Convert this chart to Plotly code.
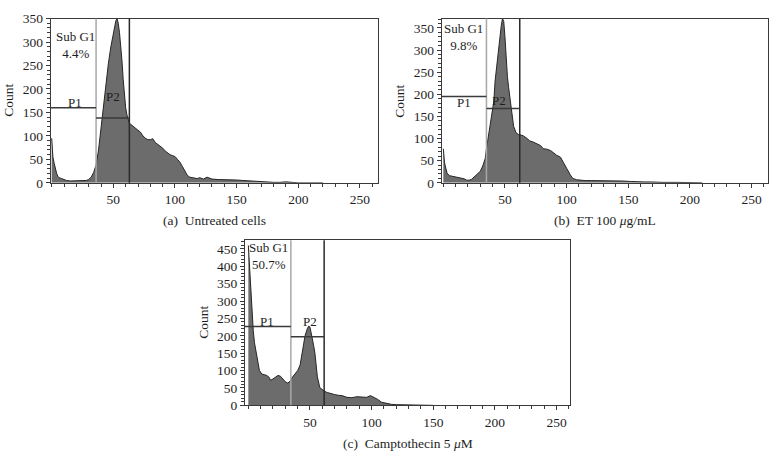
import plotly.graph_objects as go

# ---------------- data ----------------
# Panel (a) Untreated cells
a_x = [0, 1, 2, 3, 4, 5, 6, 8, 10, 12, 15, 20, 25, 28, 30, 32, 34, 36, 38, 40, 42, 44, 46, 48,
       50, 51, 52, 53, 54, 55, 56, 57, 58, 59, 60, 61, 62, 63, 64, 66, 68, 70, 72, 74, 76, 78,
       80, 82, 84, 86, 88, 90, 92, 94, 96, 98, 100, 102, 104, 106, 108, 110, 112, 115, 118,
       120, 123, 126, 130, 135, 140, 145, 150, 155, 160, 165, 170, 175, 180, 185, 190, 195,
       200, 210, 220]
a_y = [95, 55, 42, 30, 20, 14, 11, 9, 7, 5, 4, 4, 4, 5, 7, 12, 22, 38, 70, 120, 170, 215, 255,
       290, 320, 335, 345, 350, 340, 320, 295, 260, 220, 185, 160, 145, 135, 127, 125, 120,
       116, 112, 108, 100, 95, 92, 92, 94, 86, 82, 78, 74, 68, 64, 60, 58, 56, 50, 44, 35, 25,
       16, 12, 10, 9, 11, 8, 12, 8, 7, 7, 6, 6, 5, 4, 3, 3, 2, 1, 1, 2, 1, 0, 0, 0]

# Panel (b) ET 100 ug/mL
b_x = [0, 1, 3, 5, 7, 9, 11, 13, 15, 17, 19, 21, 23, 26, 28, 30, 32, 34, 35, 37, 39, 41, 42,
       44, 46, 47, 48, 49, 50, 51, 52, 53, 55, 57, 59, 61, 63, 65, 68, 70, 73, 76, 79, 81,
       84, 87, 90, 92, 95, 97, 100, 103, 105, 108, 111, 115, 120, 130, 140, 146, 152, 157,
       163, 168, 173, 178, 190, 200, 210]
b_y = [77, 45, 22, 16, 15, 14, 13, 12, 11, 9, 6, 6, 8, 15, 20, 26, 38, 55, 77, 113, 145,
       185, 230, 285, 330, 355, 371, 365, 330, 281, 240, 215, 164, 128, 113, 109, 108, 106,
       100, 95, 92, 88, 84, 77, 76, 73, 66, 62, 58, 47, 33, 18, 10, 7, 6, 5, 5, 5, 5, 4, 3,
       2, 2, 2, 1, 1, 1, 1, 0]

# Panel (c) Camptothecin 5 uM
c_x = [0, 1, 2, 3, 4, 5, 7, 9, 11, 13, 15, 17, 18, 20, 22, 24, 26, 28, 30, 32, 34, 36, 38,
       40, 42, 44, 46, 48, 49, 50, 51, 52, 53, 54, 55, 56, 58, 60, 62, 64, 67, 70, 73, 76,
       80, 84, 88, 92, 96, 99, 101, 103, 105, 108, 112, 116, 120, 126, 134, 140, 145, 150]
c_y = [460, 394, 340, 270, 215, 180, 135, 100, 90, 88, 86, 80, 72, 76, 80, 86, 84, 76, 68,
       64, 70, 82, 92, 100, 116, 160, 200, 222, 228, 225, 210, 190, 172, 150, 120, 82, 51,
       44, 40, 37, 33, 31, 29, 28, 23, 22, 25, 24, 23, 28, 25, 20, 17, 9, 5, 3, 2, 2, 2, 1,
       0, 0]

# gates: (light boundary, dark boundary, P1 level, P2 level)
a_gates = [36, 63, 160, 138]
b_gates = [35, 62, 195, 168]
c_gates = [34.5, 61.5, 227, 197]

subg1_labels = ["Sub G1<br>4.4%", "Sub G1<br>9.8%", "Sub G1<br>50.7%"]
captions = ["(a)  Untreated cells", "(b)  ET 100 <i>μ</i>g/mL", "(c)  Camptothecin 5 <i>μ</i>M"]
y_ranges = [350, 371, 475]
x_tick_vals = [50, 100, 150, 200, 250]

# ---------------- layout ----------------
W, H = 776, 463
FONT = "Liberation Serif"
FILL = "#6c6c6c"
OUTLINE = "#262626"

panels = [
    dict(x=a_x, y=a_y, gates=a_gates, xr=[-0.8, 264.4], dom_x=[50.7, 377.7], dom_y=[12, 181.7],
         sub_pos=(19, 294), p1=(19, 172), p2=(50, 184), title_x=9),
    dict(x=b_x, y=b_y, gates=b_gates, xr=[-1.3, 263.1], dom_x=[441.7, 767.7], dom_y=[12, 181.7],
         sub_pos=(16, 330), p1=(17, 182), p2=(45, 186), title_x=400),
    dict(x=c_x, y=c_y, gates=c_gates, xr=[-2.7, 260.9], dom_x=[245, 570], dom_y=[241, 411.7],
         sub_pos=(16, 429), p1=(15, 242), p2=(50, 240), title_x=204),
]

fig = go.Figure()
annotations = []
shapes = []

for i, p in enumerate(panels):
    k = "" if i == 0 else str(i + 1)
    xa, ya = "x" + k, "y" + k
    fig.add_trace(go.Scatter(
        x=p["x"], y=p["y"], mode="lines", fill="tozeroy",
        fillcolor=FILL, line=dict(color=OUTLINE, width=1),
        xaxis=xa, yaxis=ya, showlegend=False, hoverinfo="skip"))

    ax_common = dict(showline=True, mirror=True, linecolor="#3a3a3a", linewidth=1,
                     showgrid=False, zeroline=False, ticks="outside", ticklen=4,
                     tickcolor="#3a3a3a", tickfont=dict(family=FONT, size=13.5, color="#1e1e1e"))
    fig.update_layout(**{
        "xaxis" + k: dict(ax_common, domain=[p["dom_x"][0] / W, p["dom_x"][1] / W],
                          range=p["xr"], tickvals=x_tick_vals, anchor=ya,
                          minor=dict(dtick=10, tick0=0, ticks="outside", ticklen=3,
                                     tickcolor="#3a3a3a")),
        "yaxis" + k: dict(ax_common, domain=[1 - p["dom_y"][1] / H, 1 - p["dom_y"][0] / H],
                          range=[0, y_ranges[i]], dtick=50, anchor=xa,
                          minor=dict(dtick=10, ticks="outside", ticklen=3,
                                     tickcolor="#3a3a3a")),
    })

    g = p["gates"]
    xref, yref = xa, ya
    ydom = ya + " domain"
    shapes += [
        dict(type="line", xref=xref, yref=ydom, x0=g[0], x1=g[0], y0=0, y1=1,
             line=dict(color="#a8a8a8", width=1.5)),
        dict(type="line", xref=xref, yref=ydom, x0=g[1], x1=g[1], y0=0, y1=1,
             line=dict(color="#2a2a2a", width=1.5)),
        dict(type="line", xref=xref, yref=yref, x0=p["xr"][0], x1=g[0], y0=g[2], y1=g[2],
             line=dict(color="#3a3a3a", width=1.5)),
        dict(type="line", xref=xref, yref=yref, x0=g[0], x1=g[1], y0=g[3], y1=g[3],
             line=dict(color="#3a3a3a", width=1.5)),
    ]
    tf = dict(family=FONT, size=13, color="#1e1e1e")
    anc = dict(showarrow=False, xanchor="center", yanchor="middle")
    annotations += [
        dict(anc, xref=xref, yref=yref, x=p["sub_pos"][0], y=p["sub_pos"][1],
             text=subg1_labels[i], font=tf, align="center"),
        dict(anc, xref=xref, yref=yref, x=p["p1"][0], y=p["p1"][1], text="P1", font=tf),
        dict(anc, xref=xref, yref=yref, x=p["p2"][0], y=p["p2"][1], text="P2", font=tf),
        dict(anc, xref="paper", yref="paper", x=p["title_x"] / W,
             y=1 - (p["dom_y"][0] + p["dom_y"][1]) / 2 / H, text="Count", textangle=-90,
             font=dict(family=FONT, size=13.5, color="#1e1e1e")),
        dict(anc, xref="paper", yref="paper", x=(p["dom_x"][0] + p["dom_x"][1]) / 2 / W,
             y=1 - (p["dom_y"][1] + 39) / H, text=captions[i],
             font=dict(family=FONT, size=13.5, color="#1e1e1e")),
    ]

fig.update_layout(width=W, height=H, margin=dict(l=0, r=0, t=0, b=0),
                  paper_bgcolor="white", plot_bgcolor="white",
                  shapes=shapes, annotations=annotations,
                  font=dict(family=FONT, size=13, color="#1e1e1e"))

fig.write_html("out.html", config={"displayModeBar": False},
               post_script="document.body.style.margin='0';"
                           "document.body.style.overflow='hidden';")
